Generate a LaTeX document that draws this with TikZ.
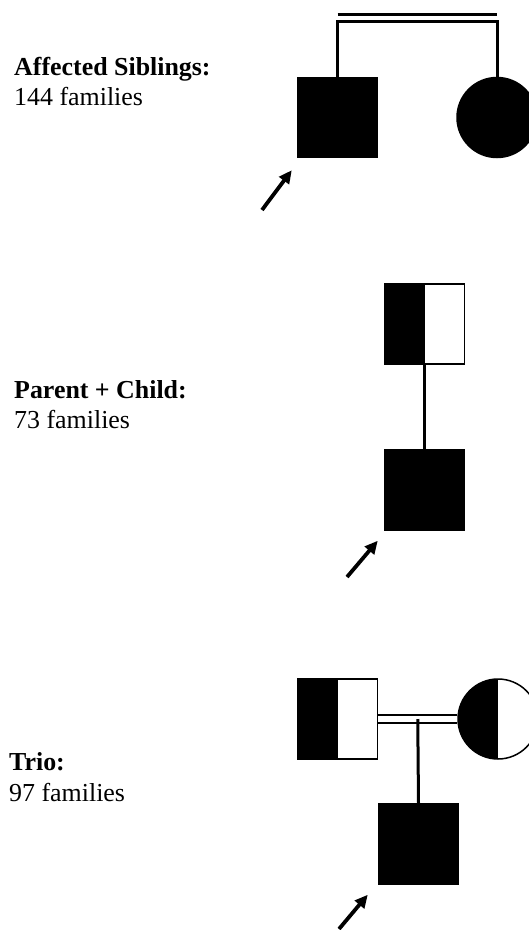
\documentclass[tikz,border=0pt]{standalone}
\usepackage{fontspec}
\setmainfont{Liberation Serif}
\usetikzlibrary{arrows.meta,calc}
\begin{document}
\begin{tikzpicture}[x=1bp,y=-1bp,
  sq/.style={draw=black, line width=1.5bp, rectangle, minimum size=80bp, inner sep=0pt},
  ci/.style={draw=black, line width=1.5bp, circle, minimum size=80bp, inner sep=0pt},
  affected/.style={fill=black},
  carrier/.style={fill=white, path picture={\fill[black] (path picture bounding box.south west) rectangle (path picture bounding box.north);}},
  lbl/.style={anchor=base west, inner sep=0pt, font=\fontsize{26}{30}\selectfont\bfseries},
  cnt/.style={anchor=base west, inner sep=0pt, font=\fontsize{26}{30}\selectfont},
  link/.style={line width=3bp},
  thinlink/.style={line width=2.2bp},
  proband/.style={-{Triangle[length=13bp,width=12bp]}, line width=3.8bp}
]
\useasboundingbox (0,0) rectangle (529,930);

% ---- Affected siblings ----
\node[lbl] (t1) at (14,75) {Affected Siblings:};
\node[cnt] (n1) at (14,105) {144 families};
\node[sq, affected] (s1) at (337.5,117.5) {};
\node[ci, affected] (s2) at (497,117.5) {};
\coordinate (c1) at (337.5,21);
\coordinate (c2) at (497,21);
\coordinate (u1) at (337.5,14);
\coordinate (u2) at (497,14);
\draw[link, line cap=butt] (s1.north) -- (c1) -- (c2) -- (s2.north);
\draw[link] (u1) -- (u2);
\coordinate (a1) at (262,210);
\draw[proband] (a1) -- ($(s1.south west)+(-5,12)$);

% ---- Parent + Child ----
\node[lbl] (t2) at (14,398) {Parent + Child:};
\node[cnt] (n2) at (14,428) {73 families};
\node[sq, carrier] (p1) at (424.5,324) {};
\node[sq, affected] (p2) at (424.5,490) {};
\draw[link] (p1.south) -- (p2.north);
\coordinate (a2) at (347,577);
\draw[proband] (a2) -- ($(p2.south west)+(-6,10)$);

% ---- Trio ----
\node[lbl] (t3) at (9,770) {Trio:};
\node[cnt] (n3) at (9,801) {97 families};
\node[sq, carrier] (f) at (337.5,719) {};
\node[ci, carrier] (m) at (498,719) {};
\node[sq, affected] (k) at (418.5,844) {};
\draw[thinlink] ($(f.east)+(0,-4)$) -- ($(m.west)+(0,-4)$);
\draw[thinlink] ($(f.east)+(0,4)$) -- ($(m.west)+(0,4)$);
\coordinate (mid) at ($(f.east)!0.5!(m.west)$);
\draw[link] (mid) -- (k.north);
\coordinate (a3) at (339,929);
\draw[proband] (a3) -- ($(k.south west)+(-10,10)$);
\end{tikzpicture}
\end{document}
